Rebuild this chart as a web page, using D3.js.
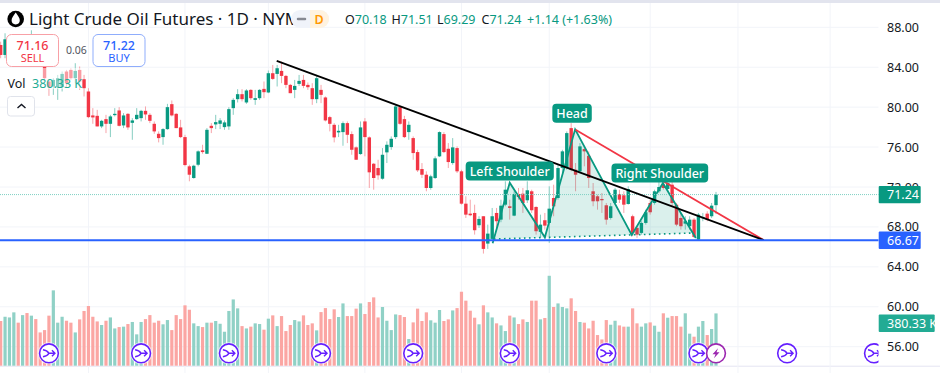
<!DOCTYPE html>
<html>
<head>
<meta charset="utf-8">
<script src="https://cdn.jsdelivr.net/npm/d3@7"></script>
<style>
    html, body { margin: 0; padding: 0; background: #fff; overflow: hidden; }
    text { font-family: "Noto Sans", sans-serif; }
</style>
</head>
<body>
<div id="chart"></div>
<script>
// daily bars (bars 2-9 sit behind the SELL box)
const opens = [86.23,85.23,85.4,85.6,86.5,85.7,86.4,85.6,86.9,86.0,84.4,82.57,82.07,82.0,82.0,83.57,83.73,82.9,83.73,82.8,
    81.57,79.17,79.13,78.07,78.8,78.33,79.2,79.67,78.17,79.33,78.43,78.8,78.9,79.63,79.23,78.33,77.33,77.0,77.8,80.3,
    79.33,77.97,77.0,74.07,72.9,74.23,75.67,75.33,78.13,78.27,78.33,78.0,78.07,79.9,80.8,81.3,80.47,81.73,80.73,80.9,
    81.83,81.47,83.4,83.33,83.63,83.13,82.23,81.73,82.33,82.73,82.23,81.9,80.8,81.73,80.97,79.0,78.23,77.47,77.5,78.4,
    77.3,75.97,75.3,78.57,76.97,74.33,73.9,72.83,75.47,76.0,77.0,80.0,78.8,77.5,76.9,75.5,73.8,73.23,71.9,72.9,
    75.07,77.3,75.83,74.4,75.9,73.57,70.33,69.33,69.4,68.17,69.07,66.33,66.8,69.4,68.73,70.23,70.07,69.13,71.3,71.33,
    70.67,71.57,70.0,67.5,68.67,68.4,70.9,70.9,73.9,73.9,77.9,73.73,73.57,75.8,75.13,71.57,71.07,70.8,70.17,68.9,
    70.4,71.3,71.17,70.3,69.07,67.9,67.4,68.4,70.4,70.4,71.57,72.23,71.8,72.23,70.23,68.9,68.33,68.07,68.73,66.73,
    68.87,69.33,69.07,70.18];
const highs = [86.56,87.4,86.9,87.1,87.0,87.0,86.9,87.7,87.2,86.5,84.73,82.73,82.9,83.23,83.57,83.73,83.9,84.4,84.07,83.23,
    81.9,79.9,79.73,78.73,79.23,79.23,79.9,80.0,79.4,79.4,78.9,79.9,79.73,80.07,79.4,78.57,77.57,77.9,80.33,80.67,
    79.4,78.73,77.23,74.23,74.23,75.67,76.23,77.9,78.4,79.23,78.9,78.67,80.0,80.9,81.8,81.8,81.8,81.8,81.73,81.8,
    82.57,83.67,84.23,84.23,84.57,83.23,82.33,82.73,83.23,83.23,82.47,82.4,83.23,82.23,81.07,79.13,78.4,78.23,78.57,78.57,
    77.57,76.07,78.57,78.9,77.07,74.4,74.73,75.9,76.57,77.07,80.23,80.13,79.13,78.57,77.07,75.73,74.4,73.57,73.23,75.07,
    77.57,77.5,76.4,76.9,76.07,73.73,71.07,70.73,70.23,69.07,69.07,68.23,69.9,69.9,70.73,72.57,70.73,71.57,71.9,71.9,
    72.57,71.73,70.07,69.23,69.4,72.07,72.23,74.23,75.73,77.57,78.4,74.4,76.4,76.07,75.57,72.4,71.23,71.4,70.4,70.4,
    71.9,71.73,71.57,72.07,69.23,68.07,68.57,69.73,70.73,71.73,72.73,73.07,72.73,72.73,70.4,69.4,69.07,69.07,68.9,69.4,
    69.4,69.57,70.4,71.51];
const lows = [84.9,84.9,85.0,85.2,85.4,85.3,85.5,85.2,85.8,84.9,82.73,81.13,81.23,80.73,81.57,82.0,82.73,82.4,81.73,81.07,
    78.9,78.33,78.07,77.9,77.4,77.0,79.07,78.07,77.9,77.73,76.73,78.73,78.57,78.73,78.4,77.33,76.47,76.23,77.73,79.07,
    77.9,76.9,74.07,72.57,72.83,74.07,75.33,75.3,77.4,77.8,77.8,77.73,77.73,79.23,80.47,80.57,80.33,80.73,80.23,80.73,
    80.9,81.4,82.73,82.07,82.4,81.9,81.4,80.9,82.13,81.9,81.73,80.23,80.4,80.4,78.57,77.57,76.47,77.0,76.13,76.4,
    75.23,74.73,75.23,75.07,71.9,71.73,72.73,72.73,74.4,75.73,76.8,78.23,76.9,76.73,74.73,73.5,72.9,71.57,71.73,72.8,
    75.0,75.4,73.9,74.23,73.4,70.23,68.9,69.07,67.23,67.9,65.33,65.8,66.57,67.73,68.47,70.07,68.73,69.07,70.73,69.4,
    70.4,69.4,67.23,66.9,67.73,66.4,69.07,70.73,73.4,73.73,73.57,71.57,73.4,74.07,71.9,70.07,69.73,69.4,68.23,68.73,
    70.23,70.4,69.4,70.23,67.07,66.9,67.23,68.23,69.23,70.23,71.4,71.73,71.57,70.07,68.07,67.73,67.73,67.73,66.9,66.67,
    68.57,68.57,68.9,69.29];
const closes = [85.23,86.8,86.2,86.6,85.8,86.5,85.7,87.0,86.1,85.2,82.9,82.0,82.73,82.9,83.33,82.4,82.9,83.63,82.57,81.9,
    79.0,78.97,78.07,78.63,78.33,79.07,79.33,78.13,79.17,77.97,78.67,79.23,79.63,79.27,78.63,77.57,76.9,77.8,80.0,79.17,
    77.9,77.0,74.2,73.23,74.13,75.57,75.5,77.73,77.9,78.5,78.67,78.47,79.8,80.73,81.3,80.8,81.67,80.9,80.9,81.73,
    81.5,83.4,82.83,83.9,83.13,82.23,81.4,82.13,82.63,82.13,82.0,80.8,82.9,81.23,78.67,78.33,76.97,77.63,78.4,77.23,
    75.73,74.73,77.97,77.0,73.47,72.9,73.17,75.23,76.23,76.83,80.07,78.33,77.0,78.23,75.4,73.67,73.23,71.9,73.07,74.87,
    77.5,75.5,74.5,75.97,73.57,70.33,69.23,69.17,67.67,68.8,65.8,67.33,69.07,68.57,70.13,71.73,69.9,71.3,71.0,70.4,
    71.67,69.67,67.57,68.23,68.13,69.83,70.07,73.9,75.57,77.4,73.73,73.23,76.07,75.57,72.9,70.57,70.57,70.67,68.73,70.07,
    71.73,70.73,70.23,71.8,67.4,67.23,68.4,69.47,69.47,71.57,72.0,71.9,72.4,70.4,68.23,68.07,68.57,68.73,67.0,69.23,
    69.0,68.73,70.13,71.24];
// volume in thousands
const volumes = [325,356,351,388,313,368,383,364,339,242,259,364,548,313,356,327,313,242,337,398,
    434,356,322,296,327,351,271,281,284,303,318,228,318,339,368,313,327,301,332,259,
    368,339,439,407,308,288,281,313,313,325,305,247,398,482,417,288,271,284,308,303,
    262,342,366,288,361,252,296,332,322,366,296,308,257,390,419,339,410,354,453,361,
    361,415,453,376,463,497,351,427,327,259,373,368,354,194,315,415,325,388,330,313,
    405,325,337,402,419,538,473,400,349,301,439,388,351,308,293,252,364,351,303,337,
    318,473,473,337,347,654,427,453,427,417,490,398,318,313,271,327,223,191,332,298,
    327,293,284,284,417,308,284,308,315,291,247,381,349,361,361,284,381,233,211,284,
    325,223,267,380.33];

const priceTicks = [88, 84, 80, 76, 72, 68, 64, 60, 56];
const monthBars = [20, 42, 61, 83, 105, 125, 148, 168, 189];
const eventBars = [11, 32, 52, 73, 94, 116, 138, 159, 179.2, 199];
const lightningBar = 163;

const supportPrice = 66.67;
const blackTrendBars = [62.9, 173.9], blackTrendPrices = [84.63, 66.67];
const redTrendBars = [131, 173.9], redTrendPrices = [77.73, 66.67];
const patternBars = [112.1, 116, 124, 130.9, 143.8, 150.9, 158.4];
const patternPrices = [66.36, 72.43, 66.96, 77.78, 67.19, 72.4, 66.89];
const neckBars = [112.4, 157.9], neckPrices = [66.79, 67.39];

const patternLabels = [
    {text: "Head", bar: 130.2, price: 79.4},
    {text: "Left Shoulder", bar: 116, price: 73.6},
    {text: "Right Shoulder", bar: 150.2, price: 73.4}
];
const ohlcLegend = [["O", "70.18"], ["H", "71.51"], ["L", "69.29"], ["C", "71.24"]];

const width = 940, height = 373, paneRight = 878.5;
const upColor = "#089981", downColor = "#f23645";
const upWick = "#86cdc1", downWick = "#f7a4aa";
const gridColor = "#f2f4f9", textColor = "#131722";

const x = d3.scaleLinear().domain([0, 163]).range([0.67, 716]);
const y = d3.scaleLinear().domain([88, 56]).range([27.3, 346.7]);
const yVol = d3.scaleLinear().domain([0, 1000]).range([365.7, 228.2]);

const svg = d3.select("#chart").append("svg")
    .attr("width", width)
    .attr("height", height)
    .style("display", "block");

svg.append("defs").append("clipPath").attr("id", "pane")
    .append("rect").attr("width", paneRight).attr("height", height);

//Page frame
svg.append("rect").attr("width", width).attr("height", height).attr("fill", "#fff");
svg.append("rect").attr("width", width).attr("height", 3).attr("fill", "#e2e4ee");
svg.append("line").attr("x1", 0).attr("x2", width).attr("y1", 366.2).attr("y2", 366.2)
    .attr("stroke", "#e4e4f2");

//Grid
svg.append("g").selectAll("line").data(monthBars).join("line")
    .attr("x1", d => x(d)).attr("x2", d => x(d))
    .attr("y1", 3).attr("y2", height)
    .attr("stroke", gridColor);
svg.append("g").selectAll("line").data(priceTicks).join("line")
    .attr("x1", 0).attr("x2", paneRight)
    .attr("y1", d => y(d)).attr("y2", d => y(d))
    .attr("stroke", gridColor);

//Volume
const bars = d3.range(opens.length);
svg.append("g").selectAll("rect").data(bars).join("rect")
    .attr("x", i => x(i) - 1.6)
    .attr("width", 3.2)
    .attr("y", i => yVol(volumes[i]))
    .attr("height", i => yVol(0) - yVol(volumes[i]))
    .attr("fill", i => closes[i] >= opens[i] ? "#90d1c6" : "#fba6a3");

//Candles
const candles = svg.append("g");
candles.selectAll("line").data(bars).join("line")
    .attr("x1", i => x(i)).attr("x2", i => x(i))
    .attr("y1", i => y(highs[i])).attr("y2", i => y(lows[i]))
    .attr("stroke", i => closes[i] >= opens[i] ? upWick : downWick);
candles.selectAll("rect").data(bars).join("rect")
    .attr("x", i => x(i) - 1.7)
    .attr("width", 3.4)
    .attr("y", i => y(Math.max(opens[i], closes[i])))
    .attr("height", i => Math.max(1, Math.abs(y(opens[i]) - y(closes[i]))))
    .attr("fill", i => closes[i] >= opens[i] ? upColor : downColor);

//Head and shoulders
const pts = (b, p) => b.map((d, i) => [x(d), y(p[i])]);
const line = d3.line();
const zigzag = pts(patternBars, patternPrices);
const neck = pts(neckBars, neckPrices);
svg.append("path")
    .attr("d", line([neck[0], ...zigzag.slice(1, 6), neck[1]]) + "Z")
    .attr("fill", upColor).attr("fill-opacity", 0.15);
svg.append("path").attr("d", line(neck))
    .attr("fill", "none").attr("stroke", upColor).attr("stroke-width", 1.6)
    .attr("stroke-dasharray", "1.6 3.4");
svg.append("path").attr("d", line(zigzag))
    .attr("fill", "none").attr("stroke", upColor).attr("stroke-width", 1.8);

//Trend lines and price lines
svg.append("line")
    .attr("x1", 0).attr("x2", paneRight)
    .attr("y1", y(closes[163])).attr("y2", y(closes[163]))
    .attr("stroke", "#7ed0c3").attr("stroke-dasharray", "1 1");
svg.append("path").attr("d", line(pts(redTrendBars, redTrendPrices)))
    .attr("fill", "none").attr("stroke", downColor).attr("stroke-width", 1.8);
svg.append("path").attr("d", line(pts(blackTrendBars, blackTrendPrices)))
    .attr("fill", "none").attr("stroke", "#000").attr("stroke-width", 1.8);
svg.append("line")
    .attr("x1", 0).attr("x2", paneRight)
    .attr("y1", y(supportPrice)).attr("y2", y(supportPrice))
    .attr("stroke", "#2962ff").attr("stroke-width", 2);

//Pattern labels
const labelHeight = 19;
patternLabels.forEach(d => {
    let g = svg.append("g");
    let label = g.append("text")
        .attr("x", x(d.bar)).attr("y", y(d.price) + 4.5)
        .attr("text-anchor", "middle")
        .attr("fill", "#fff").attr("font-size", 12.5).attr("font-weight", 500)
        .text(d.text);
    let w = label.node().getComputedTextLength() + 8;
    g.insert("rect", "text")
        .attr("x", x(d.bar) - w / 2).attr("y", y(d.price) - labelHeight / 2)
        .attr("width", w).attr("height", labelHeight).attr("rx", 4)
        .attr("fill", upColor);
});

//Event icons
const events = svg.append("g").attr("clip-path", "url(#pane)");
eventBars.forEach(b => {
    let g = events.append("g").attr("transform", "translate(" + x(b) + ",353.3)");
    g.append("circle").attr("r", 11).attr("fill", "#fff").attr("fill-opacity", 0.7);
    g.append("circle").attr("r", 9.4).attr("fill", "#fff")
        .attr("stroke", "#651fff").attr("stroke-width", 1.6);
    g.append("path").attr("d", "M-6,-3.5 Q-2,-3 0,0 M-6,3.5 Q-2,3 0,0 L6,0 M3,-3 L6,0 L3,3")
        .attr("fill", "none").attr("stroke", "#651fff").attr("stroke-width", 1.4);
});
const bolt = events.append("g").attr("transform", "translate(" + x(lightningBar) + ",353.3)");
bolt.append("circle").attr("r", 9.4).attr("fill", "#fff")
    .attr("stroke", "#9c27b0").attr("stroke-width", 1.6);
bolt.append("path").attr("d", "M2,-5 L-3.5,1 L-0.5,1 L-2,5 L3.5,-1 L0.5,-1 Z").attr("fill", "#9c27b0");

//Price axis
svg.append("g").selectAll("text").data(priceTicks).join("text")
    .attr("x", 887).attr("y", d => y(d) + 4.5)
    .attr("fill", textColor).attr("font-size", 12.5)
    .text(d => d3.format(".2f")(d));

function axisTag(w, price, fill, label) {
    let cy = price;
    svg.append("rect").attr("x", 878.7).attr("y", cy - 8.7).attr("width", w).attr("height", 17.4)
        .attr("rx", 1).attr("fill", fill);
    svg.append("text").attr("x", 887).attr("y", cy + 4.5)
        .attr("fill", "#fff").attr("font-size", 12.5).text(label);
}
axisTag(42, y(closes[163]), upColor, "71.24");
axisTag(42, y(supportPrice), "#2962ff", "66.67");
axisTag(56, yVol(380.33) + 8.3 + 1.5, "#22ab94", "380.33 K");

//Legend
svg.append("circle").attr("cx", 15.7).attr("cy", 19).attr("r", 8.3).attr("fill", "#000");
svg.append("path").attr("d", "M15.7,12.5 C13.5,16 11.6,17.6 11.6,20.3 A4.1,4.1 0 0 0 19.8,20.3 C19.8,17.6 17.9,16 15.7,12.5 Z")
    .attr("fill", "#fff");
svg.append("text").attr("x", 29).attr("y", 25)
    .attr("fill", textColor).attr("font-size", 17)
    .text("Light Crude Oil Futures · 1D · NYMEX");

svg.append("rect").attr("x", 291).attr("y", 10).attr("width", 38).attr("height", 18).attr("rx", 9).attr("fill", "#f0f3fa");
svg.append("path").attr("d", "M310,10 H320 A9,9 0 0 1 320,28 H310 Z").attr("fill", "#fff3e0");
svg.append("line").attr("x1", 298).attr("x2", 305).attr("y1", 19).attr("y2", 19)
    .attr("stroke", "#868993").attr("stroke-width", 2.5).attr("stroke-linecap", "round");
svg.append("text").attr("x", 319).attr("y", 23.5).attr("text-anchor", "middle")
    .attr("fill", "#ff9800").attr("font-size", 12.5).attr("font-weight", 600).text("D");

const ohlcX = [345, 391.5, 437, 481.5];
ohlcLegend.forEach((d, i) => {
    let t = svg.append("text").attr("x", ohlcX[i]).attr("y", 23.5).attr("font-size", 12.5);
    t.append("tspan").attr("fill", textColor).text(d[0]);
    t.append("tspan").attr("fill", upColor).text(d[1]);
});
svg.append("text").attr("x", 527).attr("y", 23.5).attr("font-size", 12.5).attr("fill", upColor)
    .text("+1.14 (+1.63%)");

//Overlay under the volume legend row, washes out the candles behind it
svg.append("rect").attr("x", 6).attr("y", 68).attr("width", 76).attr("height", 21)
    .attr("fill", "#fff").attr("fill-opacity", 0.5);

function tradeBox(left, color, border, price, label) {
    svg.append("rect").attr("x", left).attr("y", 34.5).attr("width", 52).attr("height", 32)
        .attr("rx", 5).attr("fill", "#fff").attr("stroke", border);
    svg.append("text").attr("x", left + 26).attr("y", 49.5).attr("text-anchor", "middle")
        .attr("fill", color).attr("font-size", 12.5).attr("font-weight", 500).text(price);
    svg.append("text").attr("x", left + 26).attr("y", 62).attr("text-anchor", "middle")
        .attr("fill", color).attr("font-size", 11).text(label);
}
tradeBox(6.5, downColor, "#f8a0a6", "71.16", "SELL");
tradeBox(93, "#2962ff", "#8fadfc", "71.22", "BUY");
svg.append("text").attr("x", 66).attr("y", 54).attr("fill", "#50535e").attr("font-size", 10.5).text("0.06");

svg.append("text").attr("x", 7.5).attr("y", 87.5).attr("fill", textColor).attr("font-size", 12.5).text("Vol");
svg.append("text").attr("x", 32).attr("y", 87.5).attr("fill", "#22ab94").attr("font-size", 12.5).text("380.33 K");

svg.append("rect").attr("x", 7.5).attr("y", 96.5).attr("width", 27).attr("height", 19.5)
    .attr("rx", 3).attr("fill", "#fff").attr("stroke", "#e0e3eb");
svg.append("path").attr("d", "M17.5,108 L21.5,104.5 L25.5,108")
    .attr("fill", "none").attr("stroke", textColor).attr("stroke-width", 1.4);
</script>
</body>
</html>
